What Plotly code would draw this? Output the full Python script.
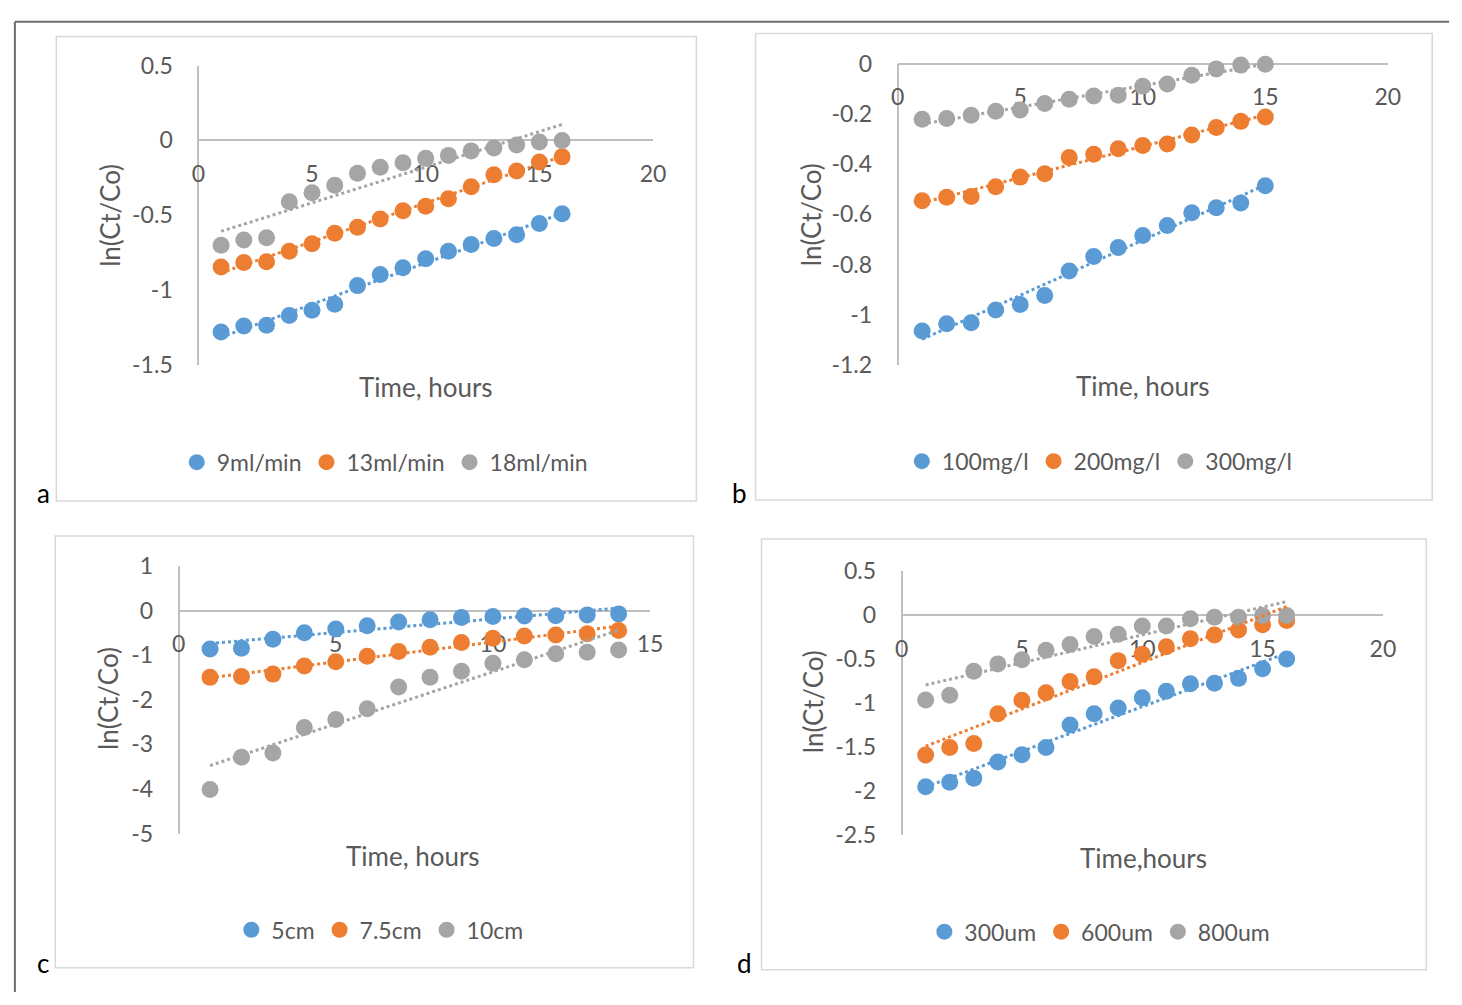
import numpy as np
import plotly.graph_objects as go

# ---------------- data ----------------
time_a = [1, 2, 3, 4, 5, 6, 7, 8, 9, 10, 11, 12, 13, 14, 15, 16]
a_9ml = [-1.28, -1.24, -1.235, -1.17, -1.135, -1.095, -0.97, -0.895, -0.85, -0.79, -0.74, -0.695, -0.655, -0.63, -0.555, -0.49]
a_13ml = [-0.845, -0.815, -0.81, -0.74, -0.69, -0.62, -0.58, -0.525, -0.47, -0.44, -0.39, -0.31, -0.23, -0.205, -0.145, -0.11]
a_18ml = [-0.70, -0.665, -0.65, -0.41, -0.35, -0.30, -0.22, -0.18, -0.15, -0.12, -0.10, -0.07, -0.05, -0.03, -0.01, 0.0]

time_b = [1, 2, 3, 4, 5, 6, 7, 8, 9, 10, 11, 12, 13, 14, 15]
b_100 = [-1.065, -1.036, -1.032, -0.981, -0.959, -0.923, -0.826, -0.768, -0.732, -0.684, -0.645, -0.594, -0.574, -0.555, -0.486]
b_200 = [-0.546, -0.532, -0.529, -0.49, -0.452, -0.439, -0.374, -0.361, -0.339, -0.326, -0.32, -0.284, -0.254, -0.23, -0.213]
b_300 = [-0.222, -0.219, -0.206, -0.19, -0.185, -0.159, -0.142, -0.129, -0.126, -0.09, -0.081, -0.046, -0.021, -0.006, -0.003]

time_c = [1, 2, 3, 4, 5, 6, 7, 8, 9, 10, 11, 12, 13, 14]
c_5cm = [-0.856, -0.842, -0.639, -0.493, -0.41, -0.334, -0.254, -0.203, -0.152, -0.131, -0.116, -0.11, -0.094, -0.07]
c_75cm = [-1.495, -1.473, -1.422, -1.241, -1.147, -1.023, -0.914, -0.82, -0.711, -0.617, -0.566, -0.544, -0.515, -0.443]
c_10cm = [-4.01, -3.29, -3.19, -2.62, -2.44, -2.2, -1.71, -1.49, -1.36, -1.18, -1.10, -0.965, -0.93, -0.88]

time_d = [1, 2, 3, 4, 5, 6, 7, 8, 9, 10, 11, 12, 13, 14, 15, 16]
d_300 = [-1.955, -1.906, -1.858, -1.675, -1.591, -1.51, -1.254, -1.125, -1.059, -0.942, -0.869, -0.784, -0.777, -0.722, -0.612, -0.502]
d_600 = [-1.595, -1.51, -1.463, -1.125, -0.971, -0.887, -0.759, -0.704, -0.52, -0.447, -0.363, -0.271, -0.227, -0.172, -0.11, -0.062]
d_800 = [-0.968, -0.913, -0.641, -0.557, -0.51, -0.403, -0.337, -0.246, -0.22, -0.125, -0.125, -0.044, -0.026, -0.026, -0.007, -0.007]

names_a = ["9ml/min", "13ml/min", "18ml/min"]
names_b = ["100mg/l", "200mg/l", "300mg/l"]
names_c = ["5cm", "7.5cm", "10cm"]
names_d = ["300um", "600um", "800um"]

x_ticks_20 = [0, 5, 10, 15, 20]
x_ticks_15 = [0, 5, 10, 15]
y_ticks_a = [0.5, 0, -0.5, -1, -1.5]
y_text_a = ["0.5", "0", "-0.5", "-1", "-1.5"]
y_ticks_b = [0, -0.2, -0.4, -0.6, -0.8, -1, -1.2]
y_text_b = ["0", "-0.2", "-0.4", "-0.6", "-0.8", "-1", "-1.2"]
y_ticks_c = [1, 0, -1, -2, -3, -4, -5]
y_text_c = ["1", "0", "-1", "-2", "-3", "-4", "-5"]
y_ticks_d = [0.5, 0, -0.5, -1, -1.5, -2, -2.5]
y_text_d = ["0.5", "0", "-0.5", "-1", "-1.5", "-2", "-2.5"]

# ---------------- styling ----------------
W, H = 1462, 1005
COLORS = ["#5B9BD5", "#ED7D31", "#A5A5A5"]
FONT = "Lato, Carlito, Calibri, 'Open Sans', sans-serif"
TXT = "#595959"
AXIS = "#BFBFBF"


def px(x):
    return x / W


def py(y):
    return 1 - y / H


panels = [
    dict(t=time_a, ys=[a_9ml, a_13ml, a_18ml], names=names_a, xr=[0, 20], xt=x_ticks_20,
         yr=[-1.5, 0.5], yt=y_ticks_a, ytt=y_text_a, box=(50, 22, 699, 500),
         dom=(194, 655, 52, 360), ytitle=(105, 206), xtitle=(425, 383, "Time, hours"),
         leg=(383, 460), lab=("a", 37, 492)),
    dict(t=time_b, ys=[b_100, b_200, b_300], names=names_b, xr=[0, 20], xt=x_ticks_20,
         yr=[-1.2, 0], yt=y_ticks_b, ytt=y_text_b, box=(759, 19, 1445, 499),
         dom=(903, 1400, 50, 360), ytitle=(815, 205), xtitle=(1152, 382, "Time, hours"),
         leg=(1108, 459), lab=("b", 743, 492)),
    dict(t=time_c, ys=[c_5cm, c_75cm, c_10cm], names=names_c, xr=[0, 15], xt=x_ticks_15,
         yr=[-5, 1], yt=y_ticks_c, ytt=y_text_c, box=(49, 536, 696, 980),
         dom=(174, 652, 567, 842), ytitle=(103, 703), xtitle=(412, 865, "Time, hours"),
         leg=(378, 941), lab=("c", 37, 975)),
    dict(t=time_d, ys=[d_300, d_600, d_800], names=names_d, xr=[0, 20], xt=x_ticks_20,
         yr=[-2.5, 0.5], yt=y_ticks_d, ytt=y_text_d, box=(765, 539, 1439, 982),
         dom=(907, 1395, 572, 843), ytitle=(818, 706), xtitle=(1152, 867, "Time,hours"),
         leg=(1108, 943), lab=("d", 748, 975)),
]

fig = go.Figure()
layout = dict(width=W, height=H, margin=dict(l=0, r=0, t=0, b=0),
              paper_bgcolor="white", plot_bgcolor="rgba(0,0,0,0)",
              font=dict(family=FONT, color=TXT), shapes=[], annotations=[])

# outer frame (top and left edges visible)
layout["shapes"].append(dict(type="line", xref="paper", yref="paper", x0=px(8), x1=px(1462),
                             y0=py(7), y1=py(7), line=dict(color="#6E6E6E", width=2)))
layout["shapes"].append(dict(type="line", xref="paper", yref="paper", x0=px(8), x1=px(8),
                             y0=py(7), y1=py(1005), line=dict(color="#6E6E6E", width=2)))

for i, p in enumerate(panels):
    k = i + 1
    xa = "x" if k == 1 else f"x{k}"
    ya = "y" if k == 1 else f"y{k}"
    leg = "legend" if k == 1 else f"legend{k}"
    x0, x1, yt_px, yb_px = p["dom"]
    xdom = [px(x0), px(x1)]
    ydom = [py(yb_px), py(yt_px)]
    ymin, ymax = p["yr"]
    zero_pos = ydom[0] + (0 - ymin) / (ymax - ymin) * (ydom[1] - ydom[0])

    for j, (ys, nm) in enumerate(zip(p["ys"], p["names"])):
        fig.add_trace(go.Scatter(x=p["t"], y=ys, mode="markers", name=nm,
                                 marker=dict(color=COLORS[j], size=17, line=dict(width=0)),
                                 xaxis=xa, yaxis=ya, legend=leg, cliponaxis=False))
    for j, ys in enumerate(p["ys"]):
        t = np.array(p["t"], dtype=float)
        slope, icpt = np.polyfit(t, np.array(ys), 1)
        tl = np.array([t[0], t[-1]])
        fig.add_trace(go.Scatter(x=tl, y=slope * tl + icpt, mode="lines", showlegend=False,
                                 line=dict(color=COLORS[j], width=3, dash="dot"),
                                 xaxis=xa, yaxis=ya, hoverinfo="skip"))

    xkey = "xaxis" if k == 1 else f"xaxis{k}"
    ykey = "yaxis" if k == 1 else f"yaxis{k}"
    layout[xkey] = dict(domain=xdom, range=p["xr"], anchor="free", position=zero_pos,
                        showline=True, linecolor=AXIS, linewidth=2, showgrid=False, zeroline=False,
                        tickmode="array", tickvals=p["xt"], ticktext=[str(v) for v in p["xt"]],
                        ticks="outside", ticklen=13, tickcolor="rgba(0,0,0,0)",
                        tickfont=dict(size=23, color=TXT, family=FONT), layer="below traces",
                        fixedrange=True)
    layout[ykey] = dict(domain=ydom, range=p["yr"], anchor="free", position=xdom[0],
                        showline=True, linecolor=AXIS, linewidth=2, showgrid=False, zeroline=False,
                        tickmode="array", tickvals=p["yt"], ticktext=p["ytt"],
                        ticks="outside", ticklen=20, tickcolor="rgba(0,0,0,0)",
                        tickfont=dict(size=23, color=TXT, family=FONT), layer="below traces",
                        fixedrange=True)

    bx0, by0, bx1, by1 = p["box"]
    layout["shapes"].append(dict(type="rect", xref="paper", yref="paper", x0=px(bx0), x1=px(bx1),
                                 y0=py(by1), y1=py(by0), line=dict(color="#D9D9D9", width=1.5),
                                 layer="below"))

    tx, ty = p["ytitle"]
    layout["annotations"].append(dict(text="ln(Ct/Co)", xref="paper", yref="paper", x=px(tx), y=py(ty),
                                      xanchor="center", yanchor="middle", textangle=-90, showarrow=False,
                                      font=dict(size=26, color=TXT, family=FONT)))
    tx, ty, ttxt = p["xtitle"]
    layout["annotations"].append(dict(text=ttxt, xref="paper", yref="paper", x=px(tx), y=py(ty),
                                      xanchor="center", yanchor="middle", showarrow=False,
                                      font=dict(size=26, color=TXT, family=FONT)))
    lab, lx, ly = p["lab"]
    layout["annotations"].append(dict(text=lab, xref="paper", yref="paper", x=px(lx), y=py(ly),
                                      xanchor="center", yanchor="middle", showarrow=False,
                                      font=dict(size=26, color="black", family=FONT)))
    lgx, lgy = p["leg"]
    layout[leg] = dict(orientation="h", x=px(lgx), y=py(lgy), xanchor="center", yanchor="middle",
                       font=dict(size=23, color=TXT, family=FONT), bgcolor="rgba(0,0,0,0)",
                       itemwidth=30, itemclick=False, itemdoubleclick=False)

fig.update_layout(**layout)
fig.write_html("out.html", config={"displayModeBar": False},
               post_script="document.body.style.margin='0';document.body.style.overflow='hidden';")
